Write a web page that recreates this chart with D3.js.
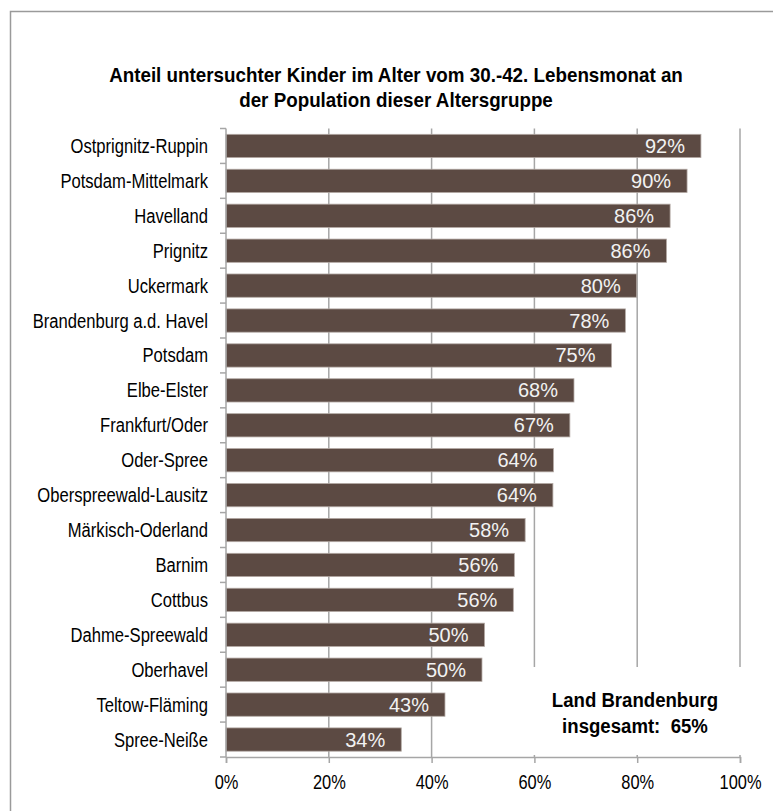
<!DOCTYPE html>
<html>
<head>
<meta charset="utf-8">
<script src="https://cdn.jsdelivr.net/npm/d3@7"></script>
<style>
  html, body { margin: 0; padding: 0; background: #fff; }
  svg { display: block; }
</style>
</head>
<body>
<div id="chart"></div>
<script>
const districts = ['Ostprignitz-Ruppin', 'Potsdam-Mittelmark', 'Havelland', 'Prignitz', 'Uckermark',
    'Brandenburg a.d. Havel', 'Potsdam', 'Elbe-Elster', 'Frankfurt/Oder', 'Oder-Spree',
    'Oberspreewald-Lausitz', 'Märkisch-Oderland', 'Barnim', 'Cottbus', 'Dahme-Spreewald',
    'Oberhavel', 'Teltow-Fläming', 'Spree-Neiße']
const shares = [0.924, 0.897, 0.864, 0.857, 0.799, 0.777, 0.750, 0.677, 0.669, 0.637,
    0.636, 0.582, 0.561, 0.559, 0.503, 0.498, 0.426, 0.341]
const xTicks = [0, 0.2, 0.4, 0.6, 0.8, 1.0]
const titleLines = ['Anteil untersuchter Kinder im Alter vom 30.-42. Lebensmonat an',
    'der Population dieser Altersgruppe']
const noteLines = ['Land Brandenburg', 'insgesamt:\u00a0 65%']

const width = 773
const height = 811
const margin = {top: 128.5, right: 33, bottom: 54, left: 226}
const FONT = '"Liberation Sans", Arial, sans-serif'

// the original uses a narrow face; squeeze the regular one horizontally
function squeeze (factor) {
    return sel => sel.each(function () {
        const len = this.getComputedTextLength()
        d3.select(this).attr('textLength', len * factor).attr('lengthAdjust', 'spacingAndGlyphs')
    })
}

const svg = d3.select('#chart').append('svg')
    .attr('width', width)
    .attr('height', height)

// outer frame
svg.append('rect')
    .attr('x', 10.5).attr('y', 11.5)
    .attr('width', width + 20).attr('height', height + 20)
    .attr('fill', 'none')
    .attr('stroke', '#9a9a9a')
    .attr('stroke-width', 1.5)

const x = d3.scaleLinear()
    .domain([0, 1])
    .range([margin.left, width - margin.right])

const y = d3.scaleBand()
    .domain(districts)
    .range([margin.top, height - margin.bottom])
    .paddingInner(1 / 3)
    .paddingOuter(1 / 6)

const gridColor = '#a6a6a6'

// title
svg.append('g').selectAll('text')
    .data(titleLines)
    .join('text')
    .attr('x', 396)
    .attr('y', (d, i) => 82 + i * 25)
    .attr('text-anchor', 'middle')
    .style('font-family', FONT)
    .style('font-weight', 'bold')
    .style('font-size', '21px')
    .attr('fill', '#000')
    .text(d => d)
    .call(squeeze(0.895))

// gridlines
svg.append('g').selectAll('line')
    .data(xTicks.slice(1))
    .join('line')
    .attr('x1', d => x(d)).attr('x2', d => x(d))
    .attr('y1', margin.top).attr('y2', height - margin.bottom)
    .attr('stroke', gridColor)
    .attr('stroke-width', 1.5)

// bars
svg.append('g').selectAll('rect')
    .data(districts)
    .join('rect')
    .attr('x', x(0))
    .attr('y', d => y(d))
    .attr('width', (d, i) => x(shares[i]) - x(0))
    .attr('height', y.bandwidth())
    .attr('fill', '#5c4a43')
    .attr('stroke', '#b3a9a4')
    .attr('stroke-width', 0.8)

// value labels inside bar end
const fmt = d3.format('.0%')
svg.append('g').selectAll('text')
    .data(districts)
    .join('text')
    .attr('x', (d, i) => x(shares[i]) - 16)
    .attr('y', d => y(d) + y.bandwidth() / 2 + 7)
    .attr('text-anchor', 'end')
    .style('font-family', FONT)
    .style('font-size', '20px')
    .attr('fill', '#f2f2f2')
    .text((d, i) => fmt(shares[i]))

// note box covering the gridlines
svg.append('rect')
    .attr('x', 514).attr('y', 667)
    .attr('width', 244).attr('height', 88)
    .attr('fill', '#fff')

svg.append('g').selectAll('text')
    .data(noteLines)
    .join('text')
    .attr('x', 635)
    .attr('y', (d, i) => 707 + i * 26)
    .attr('text-anchor', 'middle')
    .style('font-family', FONT)
    .style('font-weight', 'bold')
    .style('font-size', '20px')
    .attr('fill', '#000')
    .text(d => d)
    .call(squeeze(0.93))

// x axis
const xAxis = svg.append('g')
    .attr('transform', `translate(0, ${height - margin.bottom})`)
    .call(d3.axisBottom(x).tickValues(xTicks).tickFormat(d3.format('.0%')).tickSize(6).tickPadding(12))
xAxis.select('.domain').attr('stroke', gridColor).attr('stroke-width', 1.5)
xAxis.selectAll('.tick line').attr('stroke', gridColor).attr('stroke-width', 1.5)
xAxis.selectAll('.tick text')
    .style('font-family', FONT)
    .style('font-size', '20px')
    .attr('fill', '#000')
    .call(squeeze(0.82))

// y axis with ticks at category boundaries
const yAxis = svg.append('g')
yAxis.append('line')
    .attr('x1', x(0)).attr('x2', x(0))
    .attr('y1', margin.top).attr('y2', height - margin.bottom)
    .attr('stroke', gridColor)
    .attr('stroke-width', 1.5)
yAxis.selectAll('line.tick')
    .data(d3.range(districts.length + 1))
    .join('line')
    .attr('class', 'tick')
    .attr('x1', x(0) - 6).attr('x2', x(0))
    .attr('y1', i => margin.top + i * y.step())
    .attr('y2', i => margin.top + i * y.step())
    .attr('stroke', gridColor)
    .attr('stroke-width', 1.5)
yAxis.selectAll('text')
    .data(districts)
    .join('text')
    .attr('x', 208)
    .attr('y', d => y(d) + y.bandwidth() / 2 + 7)
    .attr('text-anchor', 'end')
    .style('font-family', FONT)
    .style('font-size', '20px')
    .attr('fill', '#000')
    .text(d => d)
    .call(squeeze(0.83))
</script>
</body>
</html>
